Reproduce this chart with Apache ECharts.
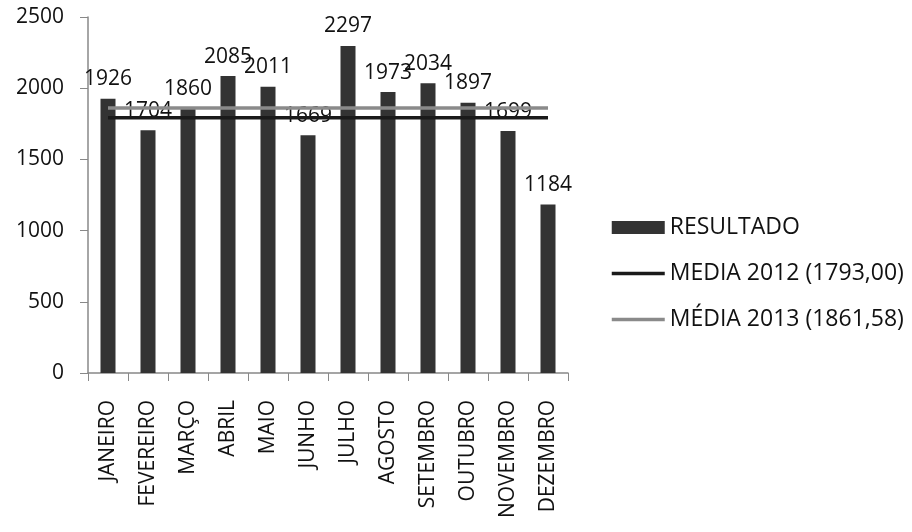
<!DOCTYPE html>
<html>
<head>
<meta charset="utf-8">
<script src="https://cdn.jsdelivr.net/npm/echarts@6/dist/echarts.min.js"></script>
<style>
html,body{margin:0;padding:0;background:#fff;}
#c{width:912px;height:532px;}
</style>
</head>
<body>
<div id="c"></div>
<script>
const categories = ['JANEIRO','FEVEREIRO','MARÇO','ABRIL','MAIO','JUNHO','JULHO','AGOSTO','SETEMBRO','OUTUBRO','NOVEMBRO','DEZEMBRO'];
const resultado = [1926,1704,1860,2085,2011,1669,2297,1973,2034,1897,1699,1184];
const media2012 = [1793,1793,1793,1793,1793,1793,1793,1793,1793,1793,1793,1793];
const media2013 = [1861.58,1861.58,1861.58,1861.58,1861.58,1861.58,1861.58,1861.58,1861.58,1861.58,1861.58,1861.58];
const seriesNames = ['RESULTADO','MEDIA 2012 (1793,00)','MÉDIA 2013 (1861,58)'];
const yTicks = [0,500,1000,1500,2000,2500];

const font = '"Open Sans", "DejaVu Sans", sans-serif';
const chart = echarts.init(document.getElementById('c'), null, {renderer:'canvas'});
chart.setOption({
  animation:false,
  backgroundColor:'#ffffff',
  textStyle:{fontFamily:font},
  grid:{left:88,right:344,top:17,bottom:159,containLabel:false},
  legend:{
    orient:'vertical',
    left:605, top:211,
    itemWidth:53, itemHeight:13, itemGap:23,
    textStyle:{fontFamily:font,fontSize:23,color:'#111'},
    data:[
      {name:seriesNames[0], icon:'rect'},
      {name:seriesNames[1], itemStyle:{opacity:0}, lineStyle:{width:3.5,color:'#1a1a1a'}},
      {name:seriesNames[2], itemStyle:{opacity:0}, lineStyle:{width:3.5,color:'#8a8a8a'}}
    ]
  },
  xAxis:{
    type:'category',
    data:categories,
    boundaryGap:true,
    axisLine:{show:true,lineStyle:{color:'#888',width:1.5}},
    axisTick:{show:true,alignWithLabel:false,length:8,lineStyle:{color:'#888'}},
    axisLabel:{rotate:90,margin:27,fontSize:21,color:'#111',fontFamily:font,interval:0},
    splitLine:{show:false}
  },
  yAxis:{
    type:'value',
    min:yTicks[0], max:yTicks[yTicks.length-1], interval:500,
    axisLine:{show:true,lineStyle:{color:'#888',width:1.5}},
    axisTick:{show:true,length:8,lineStyle:{color:'#888'}},
    axisLabel:{margin:24,fontSize:21,color:'#111',fontFamily:font,formatter:function(v){return String(v);}},
    splitLine:{show:false}
  },
  series:[
    {
      name:seriesNames[0], type:'bar', data:resultado,
      barWidth:15,
      itemStyle:{color:'#333333'},
      label:{show:true,position:'top',distance:9,fontSize:21,color:'#111',fontFamily:font},
      z:2
    },
    {
      name:seriesNames[1], type:'line', data:media2012,
      symbol:'none', showSymbol:false,
      lineStyle:{color:'#1a1a1a',width:3.5},
      itemStyle:{color:'#1a1a1a'},
      z:3
    },
    {
      name:seriesNames[2], type:'line', data:media2013,
      symbol:'none', showSymbol:false,
      lineStyle:{color:'#8a8a8a',width:3.5},
      itemStyle:{color:'#8a8a8a'},
      z:3
    }
  ]
});
</script>
</body>
</html>
